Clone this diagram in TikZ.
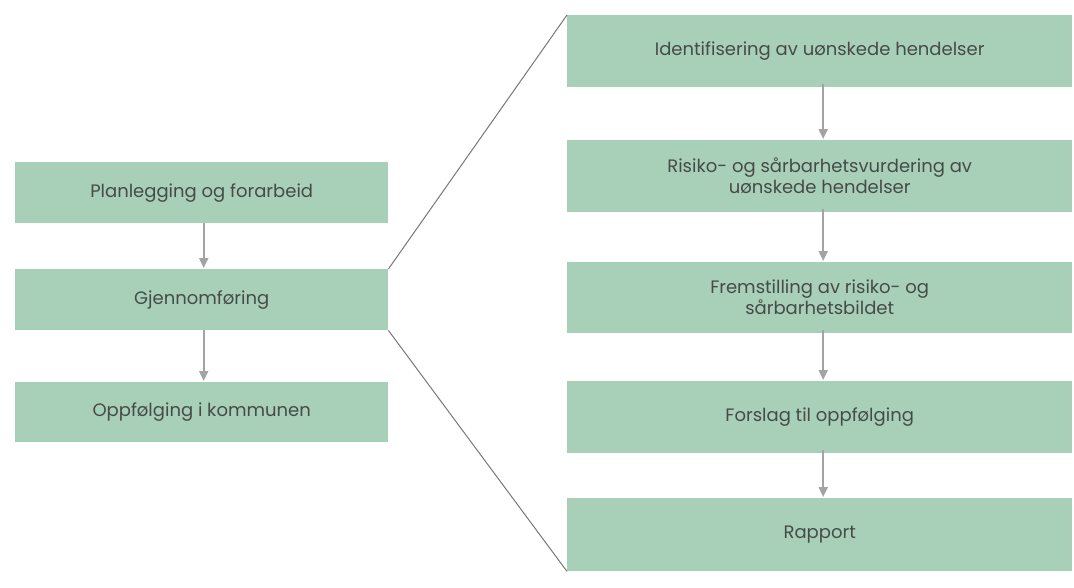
\documentclass[tikz,border=0pt]{standalone}
\usepackage{fontspec}
\setmainfont{Poppins}
\usetikzlibrary{arrows.meta}
\definecolor{boxgreen}{HTML}{A8D0B8}
\definecolor{txtgray}{HTML}{464B47}
\definecolor{arrgray}{HTML}{A3A3A3}
\definecolor{zoomgray}{HTML}{777777}
\tikzset{
  stepbox/.style={fill=boxgreen, draw=none, inner sep=0pt, anchor=north west,
    text=txtgray, font=\fontsize{18}{21}\selectfont, align=center},
  flowarrow/.style={draw=arrgray, line width=2pt, -{Triangle[length=10pt,width=9pt]}, shorten >=1pt},
  zoomline/.style={draw=zoomgray, line width=1pt}
}
\begin{document}
\begin{tikzpicture}[x=1pt,y=-1pt]
\useasboundingbox (0,0) rectangle (1074,587);
% left column
\node[stepbox, minimum width=373pt, minimum height=61pt] (l1) at (15,162) {Planlegging og forarbeid};
\node[stepbox, minimum width=373pt, minimum height=61pt] (l2) at (15,269) {Gjennomføring};
\node[stepbox, minimum width=373pt, minimum height=60pt] (l3) at (15,382) {Oppfølging i kommunen};
% right column
\node[stepbox, minimum width=505pt, minimum height=72pt] (r1) at (567,15) {Identifisering av uønskede hendelser};
\node[stepbox, minimum width=505pt, minimum height=72pt] (r2) at (567,140) {Risiko- og sårbarhetsvurdering av\\uønskede hendelser};
\node[stepbox, minimum width=505pt, minimum height=71pt] (r3) at (567,262) {Fremstilling av risiko- og\\sårbarhetsbildet};
\node[stepbox, minimum width=505pt, minimum height=72pt] (r4) at (567,381) {Forslag til oppfølging};
\node[stepbox, minimum width=505pt, minimum height=73pt] (r5) at (567,498) {Rapport};
% arrows left
\draw[flowarrow] ([xshift=2pt]l1.south) -- ([xshift=2pt]l2.north);
\draw[flowarrow] ([xshift=2pt]l2.south) -- ([xshift=2pt]l3.north);
% arrows right
\draw[flowarrow] ([xshift=3.5pt,yshift=3pt]r1.south) -- ([xshift=3.5pt]r2.north);
\draw[flowarrow] ([xshift=3.5pt,yshift=3pt]r2.south) -- ([xshift=3.5pt]r3.north);
\draw[flowarrow] ([xshift=3.5pt,yshift=3pt]r3.south) -- ([xshift=3.5pt]r4.north);
\draw[flowarrow] ([xshift=3.5pt,yshift=3pt]r4.south) -- ([xshift=3.5pt]r5.north);
% zoom lines
\draw[zoomline] (l2.north east) -- (r1.north west);
\draw[zoomline] (l2.south east) -- (r5.south west);
\end{tikzpicture}
\end{document}
